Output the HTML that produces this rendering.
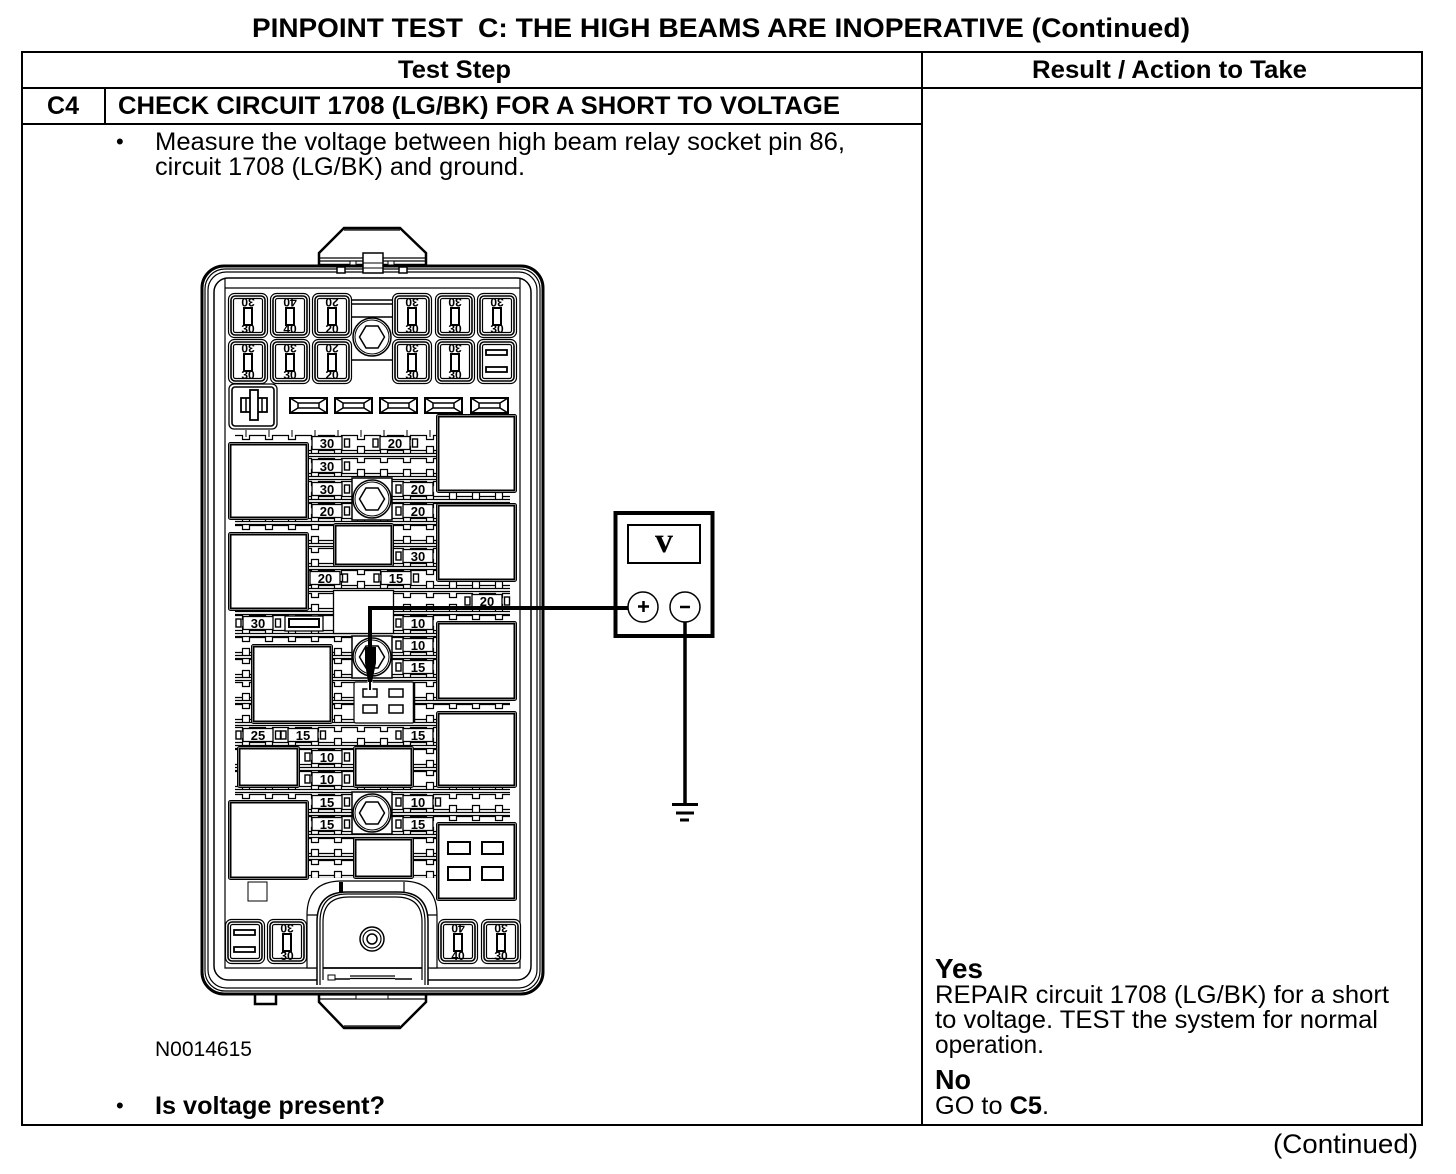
<!DOCTYPE html>
<html><head><meta charset="utf-8"><title>Pinpoint Test C</title>
<style>
html,body{margin:0;padding:0;background:#fff}
svg{display:block}
text{font-family:"Liberation Sans",sans-serif;fill:#000}
.b{font-weight:bold}
.f{font-size:13px;font-weight:bold;text-anchor:middle}
.s{font-size:12px;font-weight:bold;text-anchor:middle}
</style></head><body>
<svg xmlns="http://www.w3.org/2000/svg" width="1456" height="1174" viewBox="0 0 1456 1174">
<defs>
<clipPath id="cp"><rect x="235" y="431" width="275" height="447"/></clipPath>
<g id="cell">
<path d="M-11.500 -7.500H-3.500V-3.500H3.500V-7.500H11.500M-11.500 7.500H-3.500V3.500H3.500V7.500H11.500M-11.500 10.500H11.500M-11.500 13.500H11.500M-3.500 7.500V10.500M3.500 7.500V10.500" fill="none" stroke="#000" stroke-width="1.200"/>
</g>
<g id="row">
<use href="#cell" x="246"/><use href="#cell" x="269"/><use href="#cell" x="292"/><use href="#cell" x="315"/><use href="#cell" x="338"/><use href="#cell" x="361"/><use href="#cell" x="384"/><use href="#cell" x="407"/><use href="#cell" x="430"/><use href="#cell" x="453"/><use href="#cell" x="476"/><use href="#cell" x="499"/>
</g>
<g id="fc">
<rect x=".5" y=".5" width="39" height="44" rx="6" fill="#fff" stroke="#000" stroke-width="1.200"/>
<rect x="3" y="3" width="34" height="39" rx="4" fill="none" stroke="#000" stroke-width="1.600"/>
<rect x="5.500" y="5.500" width="29" height="34" rx="2" fill="none" stroke="#000" stroke-width="1.200"/>
<rect x="16" y="15" width="8" height="17" fill="#fff" stroke="#000" stroke-width="2"/>
</g>
<g id="fs">
<rect x=".5" y=".5" width="39" height="44" rx="6" fill="#fff" stroke="#000" stroke-width="1.200"/>
<rect x="3" y="3" width="34" height="39" rx="4" fill="none" stroke="#000" stroke-width="1.600"/>
<rect x="5.500" y="5.500" width="29" height="34" rx="2" fill="none" stroke="#000" stroke-width="1.200"/>
<rect x="9" y="11" width="21" height="5" fill="#fff" stroke="#000" stroke-width="1.800"/>
<rect x="9" y="28" width="21" height="5" fill="#fff" stroke="#000" stroke-width="1.800"/>
</g>
<g id="mf">
<rect x="1" y="1" width="37" height="15" fill="#fff" stroke="#000" stroke-width="2"/>
<path d="M1 1L9 6V11L1 16M38 1L30 6V11L38 16M9 6H30M9 11H30" fill="none" stroke="#000" stroke-width="1.500"/>
</g>
<g id="hex">
<circle r="19" fill="#fff" stroke="#000" stroke-width="1.500"/>
<circle r="17" fill="none" stroke="#000" stroke-width="1"/>
<path d="M-6-11H6L12.500 0L6 11H-6L-12.500 0Z" fill="#fff" stroke="#000" stroke-width="1.500"/>
</g>
<g id="bolt">
<rect x="-20" y="-21" width="40" height="42" fill="#fff" stroke="#000" stroke-width="1.500"/>
<use href="#hex"/>
</g>
<rect id="bx" x="-15" y="-6.500" width="30" height="13" fill="#fff" stroke="#000" stroke-width="1.300"/>
<rect id="pl" x="-22" y="-4" width="5" height="8" fill="#fff" stroke="#000" stroke-width="1.400"/>
<rect id="pr" x="17.500" y="-4" width="5" height="8" fill="#fff" stroke="#000" stroke-width="1.400"/>
<g id="lbr"><use href="#bx"/><use href="#pr"/></g>
<g id="lbl"><use href="#bx"/><use href="#pl"/></g>
<g id="lb"><use href="#bx"/><use href="#pl"/><use href="#pr"/></g>
</defs>

<!-- Table -->
<g stroke="#000" stroke-width="2" fill="none">
<rect x="22" y="52" width="1400" height="1073"/>
<path d="M22 88H1422M22 124H922M105 88V124M922 52V1125"/>
</g>

<text class="b" x="252" y="37" font-size="27" textLength="211" lengthAdjust="spacingAndGlyphs">PINPOINT TEST</text>
<text class="b" x="478" y="37" font-size="27" textLength="712" lengthAdjust="spacingAndGlyphs">C: THE HIGH BEAMS ARE INOPERATIVE (Continued)</text>
<text class="b" x="398" y="78" font-size="25" textLength="113" lengthAdjust="spacingAndGlyphs">Test Step</text>
<text class="b" x="1032" y="78" font-size="25" textLength="275" lengthAdjust="spacingAndGlyphs">Result / Action to Take</text>
<text class="b" x="47" y="114" font-size="25" textLength="32" lengthAdjust="spacingAndGlyphs">C4</text>
<text class="b" x="118" y="114" font-size="25" textLength="722" lengthAdjust="spacingAndGlyphs">CHECK CIRCUIT 1708 (LG/BK) FOR A SHORT TO VOLTAGE</text>
<text x="116" y="149" font-size="22">•</text>
<text x="155" y="150" font-size="25" textLength="690" lengthAdjust="spacingAndGlyphs">Measure the voltage between high beam relay socket pin 86,</text>
<text x="155" y="175" font-size="25" textLength="370" lengthAdjust="spacingAndGlyphs">circuit 1708 (LG/BK) and ground.</text>
<text x="155" y="1056" font-size="21" textLength="97" lengthAdjust="spacingAndGlyphs">N0014615</text>
<text x="116" y="1113" font-size="22">•</text>
<text class="b" x="155" y="1114" font-size="25" textLength="230" lengthAdjust="spacingAndGlyphs">Is voltage present?</text>
<text class="b" x="935" y="978" font-size="28" textLength="48" lengthAdjust="spacingAndGlyphs">Yes</text>
<text x="935" y="1003" font-size="25" textLength="454" lengthAdjust="spacingAndGlyphs">REPAIR circuit 1708 (LG/BK) for a short</text>
<text x="935" y="1028" font-size="25" textLength="443" lengthAdjust="spacingAndGlyphs">to voltage. TEST the system for normal</text>
<text x="935" y="1053" font-size="25" textLength="109" lengthAdjust="spacingAndGlyphs">operation.</text>
<text class="b" x="935" y="1089" font-size="28" textLength="36" lengthAdjust="spacingAndGlyphs">No</text>
<text x="935" y="1114" font-size="25" textLength="114" lengthAdjust="spacingAndGlyphs">GO to <tspan class="b">C5</tspan>.</text>
<text x="1273" y="1153" font-size="27" textLength="145" lengthAdjust="spacingAndGlyphs">(Continued)</text>

<!-- Fuse box housing -->
<g stroke="#000" fill="#fff">
<path d="M319 265V253L344 228H400L426 253V265Z" stroke-width="2.500"/>
<path d="M319 258H426M319 261H426M344 230H400" fill="none" stroke-width="1.200"/>
<path d="M319 987V1002L344 1028H400L426 1002V987Z" stroke-width="2.500"/>
<path d="M319 995H426M319 999H426M344 1026H400M352 987V995M403 987V995" fill="none" stroke-width="1.300"/>
<rect x="356" y="995" width="32" height="4" stroke-width="1"/>
<rect x="255" y="985" width="21" height="19" stroke-width="2.500"/>
<rect x="202" y="266" width="341" height="728" rx="22" stroke-width="3"/>
<rect x="205" y="269" width="335" height="722" rx="20" fill="none" stroke-width="1.200"/>
<rect x="208" y="272" width="329" height="716" rx="18" fill="none" stroke-width="1.200"/>
<rect x="214" y="278" width="317" height="702" rx="14" fill="none" stroke-width="1.500"/>
<path d="M225 278V968H316M520 278V968H430M225 288H520" fill="none" stroke-width="1.200"/>
<rect x="363" y="253" width="20" height="20" stroke-width="1.500"/>
<path d="M363 268H383M363 263H383" fill="none" stroke-width="1"/>
<rect x="337" y="267" width="8" height="6" stroke-width="1.500"/>
<rect x="399" y="267" width="8" height="6" stroke-width="1.500"/>
<rect x="350" y="261" width="6" height="4" stroke-width="1"/>
<rect x="388" y="261" width="6" height="4" stroke-width="1"/>
</g>

<!-- Connector strips -->
<g clip-path="url(#cp)">
<use href="#row" y="443"/><use href="#row" y="466"/><use href="#row" y="489"/><use href="#row" y="511"/><use href="#row" y="533"/><use href="#row" y="556"/><use href="#row" y="578"/><use href="#row" y="601"/><use href="#row" y="623"/><use href="#row" y="645"/><use href="#row" y="667"/><use href="#row" y="690"/><use href="#row" y="712"/><use href="#row" y="735"/><use href="#row" y="757"/><use href="#row" y="779"/><use href="#row" y="802"/><use href="#row" y="824"/><use href="#row" y="846"/><use href="#row" y="868"/>
</g>

<path d="M352 300H393M352 304H393M352 317H393M352 360H393" stroke="#000" stroke-width="1.500" fill="none"/>

<!-- Upper fuses -->
<use href="#fc" x="228" y="293"/><use href="#fc" x="270" y="293"/><use href="#fc" x="312" y="293"/>
<use href="#fc" x="392" y="293"/><use href="#fc" x="435" y="293"/><use href="#fc" x="477" y="293"/>
<use href="#fc" x="228" y="339"/><use href="#fc" x="270" y="339"/><use href="#fc" x="312" y="339"/>
<use href="#fc" x="392" y="339"/><use href="#fc" x="435" y="339"/><use href="#fs" x="477" y="339"/>
<text class="s" x="248" y="333">30</text><text class="s" transform="rotate(180 248 298)" x="248" y="298">30</text>
<text class="s" x="290" y="333">40</text><text class="s" transform="rotate(180 290 298)" x="290" y="298">40</text>
<text class="s" x="332" y="333">20</text><text class="s" transform="rotate(180 332 298)" x="332" y="298">20</text>
<text class="s" x="412" y="333">30</text><text class="s" transform="rotate(180 412 298)" x="412" y="298">30</text>
<text class="s" x="455" y="333">30</text><text class="s" transform="rotate(180 455 298)" x="455" y="298">30</text>
<text class="s" x="497" y="333">30</text><text class="s" transform="rotate(180 497 298)" x="497" y="298">30</text>
<text class="s" x="248" y="379">30</text><text class="s" transform="rotate(180 248 344)" x="248" y="344">30</text>
<text class="s" x="290" y="379">30</text><text class="s" transform="rotate(180 290 344)" x="290" y="344">30</text>
<text class="s" x="332" y="379">20</text><text class="s" transform="rotate(180 332 344)" x="332" y="344">20</text>
<text class="s" x="412" y="379">30</text><text class="s" transform="rotate(180 412 344)" x="412" y="344">30</text>
<text class="s" x="455" y="379">30</text><text class="s" transform="rotate(180 455 344)" x="455" y="344">30</text>

<!-- Plug cell -->
<g stroke="#000" fill="#fff">
<rect x="229" y="384" width="48" height="45" rx="5" stroke-width="1.300"/>
<rect x="232" y="387" width="42" height="39" rx="3" fill="none" stroke-width="1.600"/>
<rect x="241" y="398" width="26" height="14" stroke-width="1.800"/>
<path d="M246 398V412M262 398V412" fill="none" stroke-width="1.500"/>
<rect x="250" y="390" width="8" height="30" stroke-width="1.800"/>
</g>

<use href="#mf" x="289" y="397"/><use href="#mf" x="334" y="397"/><use href="#mf" x="379" y="397"/><use href="#mf" x="424" y="397"/><use href="#mf" x="470" y="397"/>
<path d="M246 430V437M269 430V437M292 430V437M315 430V437M338 430V437M361 430V437M384 430V437M407 430V437M430 430V437" stroke="#000" stroke-width="1"/>

<!-- Bolts -->
<use href="#hex" x="372" y="337"/>
<use href="#bolt" x="372" y="499"/>
<use href="#bolt" x="372" y="657"/>
<use href="#bolt" x="372" y="813"/>

<!-- Relays -->
<g fill="#fff" stroke="#000">
<rect x="436.500" y="414.500" width="80" height="78" rx="2" stroke-width="1"/><rect x="438.500" y="416.500" width="76" height="74" stroke-width="2"/>
<rect x="228.500" y="442.500" width="80" height="77" rx="2" stroke-width="1"/><rect x="230.500" y="444.500" width="76" height="73" stroke-width="2"/>
<rect x="436.500" y="503.500" width="80" height="78" rx="2" stroke-width="1"/><rect x="438.500" y="505.500" width="76" height="74" stroke-width="2"/>
<rect x="228.500" y="532.500" width="80" height="78" rx="2" stroke-width="1"/><rect x="230.500" y="534.500" width="76" height="74" stroke-width="2"/>
<rect x="436.500" y="621.500" width="80" height="79" rx="2" stroke-width="1"/><rect x="438.500" y="623.500" width="76" height="75" stroke-width="2"/>
<rect x="251.500" y="644.500" width="81" height="79" rx="2" stroke-width="1"/><rect x="253.500" y="646.500" width="77" height="75" stroke-width="2"/>
<rect x="436.500" y="711.500" width="80" height="76" rx="2" stroke-width="1"/><rect x="438.500" y="713.500" width="76" height="72" stroke-width="2"/>
<rect x="237.500" y="746.500" width="62" height="41" rx="2" stroke-width="1"/><rect x="239.500" y="748.500" width="58" height="37" stroke-width="2"/>
<rect x="353.500" y="746.500" width="60" height="41" rx="2" stroke-width="1"/><rect x="355.500" y="748.500" width="56" height="37" stroke-width="2"/>
<rect x="228.500" y="800.500" width="80" height="79" rx="2" stroke-width="1"/><rect x="230.500" y="802.500" width="76" height="75" stroke-width="2"/>
<rect x="436.500" y="822.500" width="80" height="78" rx="2" stroke-width="1"/><rect x="438.500" y="824.500" width="76" height="74" stroke-width="2"/>
<rect x="333.500" y="523.500" width="60" height="43" rx="2" stroke-width="1"/><rect x="335.500" y="525.500" width="56" height="39" stroke-width="2"/>
<rect x="353.500" y="837.500" width="60" height="41" rx="2" stroke-width="1"/><rect x="355.500" y="839.500" width="56" height="37" stroke-width="2"/>
<rect x="333.500" y="590.500" width="60" height="43" stroke-width="1.300"/>
<rect x="354" y="682" width="60" height="41" rx="2" stroke-width="1.200"/>
<path d="M414 682V723" stroke-width="2.500" fill="none"/>
<rect x="363" y="689" width="14" height="8" stroke-width="1.500"/>
<rect x="389" y="689" width="14" height="8" stroke-width="1.500"/>
<rect x="363" y="705" width="14" height="8" stroke-width="1.500"/>
<rect x="389" y="705" width="14" height="8" stroke-width="1.500"/>
<rect x="448" y="842" width="22" height="12" stroke-width="2"/>
<rect x="482" y="842" width="21" height="12" stroke-width="2"/>
<rect x="448" y="867" width="22" height="13" stroke-width="2"/>
<rect x="482" y="867" width="21" height="13" stroke-width="2"/>
<rect x="248" y="882" width="19" height="19" stroke-width="1"/>
<rect x="285" y="616" width="38" height="15" stroke-width="1.300"/>
<rect x="289" y="619" width="30" height="8" stroke-width="2"/>
</g>

<!-- Labelled fuses -->
<g>
<use href="#lbr" x="327" y="443"/><text class="f" x="327" y="448">30</text>
<use href="#lb" x="395" y="443"/><text class="f" x="395" y="448">20</text>
<use href="#lbr" x="327" y="466"/><text class="f" x="327" y="471">30</text>
<use href="#lbr" x="327" y="489"/><text class="f" x="327" y="494">30</text>
<use href="#lbl" x="418" y="489"/><text class="f" x="418" y="494">20</text>
<use href="#lbr" x="327" y="511"/><text class="f" x="327" y="516">20</text>
<use href="#lbl" x="418" y="511"/><text class="f" x="418" y="516">20</text>
<use href="#lbl" x="418" y="556"/><text class="f" x="418" y="561">30</text>
<use href="#lbr" x="325" y="578"/><text class="f" x="325" y="583">20</text>
<use href="#lb" x="396" y="578"/><text class="f" x="396" y="583">15</text>
<use href="#lb" x="487" y="601"/><text class="f" x="487" y="606">20</text>
<use href="#lb" x="258" y="623"/><text class="f" x="258" y="628">30</text>
<use href="#lbl" x="418" y="623"/><text class="f" x="418" y="628">10</text>
<use href="#lbl" x="418" y="645"/><text class="f" x="418" y="650">10</text>
<use href="#lbl" x="418" y="667"/><text class="f" x="418" y="672">15</text>
<use href="#lb" x="258" y="735"/><text class="f" x="258" y="740">25</text>
<use href="#lb" x="303" y="735"/><text class="f" x="303" y="740">15</text>
<use href="#lbl" x="418" y="735"/><text class="f" x="418" y="740">15</text>
<use href="#lb" x="327" y="757"/><text class="f" x="327" y="762">10</text>
<use href="#lb" x="327" y="779"/><text class="f" x="327" y="784">10</text>
<use href="#lbr" x="327" y="802"/><text class="f" x="327" y="807">15</text>
<use href="#lb" x="418" y="802"/><text class="f" x="418" y="807">10</text>
<use href="#lbr" x="327" y="824"/><text class="f" x="327" y="829">15</text>
<use href="#lbl" x="418" y="824"/><text class="f" x="418" y="829">15</text>
</g>

<!-- Cover -->
<g stroke="#000" fill="#fff">
<path d="M307 968V915Q307 881 342 881H402Q437 881 437 915V968Z" stroke-width="1.200"/>
<path d="M341 882V892" stroke-width="4"/>
<path d="M404 882V892" stroke-width="1.200"/>
<path d="M307 915H317M428 915H437" stroke-width="1.200" fill="none"/>
<path d="M317 985V922Q317 892 347 892H398Q428 892 428 922V985" stroke-width="1.500"/>
<path d="M320 985V922Q320 894 347 894H398Q425 894 425 922V985" fill="none" stroke-width="1.200"/>
<path d="M323 980V922Q323 897 349 897H396Q422 897 422 922V980" fill="none" stroke-width="1.200"/>
<path d="M323 968H422" fill="none" stroke-width="1.800"/>
<path d="M350 976H395" fill="none" stroke-width="1.300"/>
<path d="M350 978.500H395" fill="none" stroke-width="1.300"/>
<rect x="328" y="975" width="7" height="5" stroke-width="1"/>
<path d="M335 979H350M395 979H412" fill="none" stroke-width="1.500"/>
<circle cx="372" cy="939" r="12" stroke-width="1.500"/>
<circle cx="372" cy="939" r="9" fill="none" stroke-width="1.200"/>
<circle cx="372" cy="939" r="5" fill="none" stroke-width="1.500"/>
</g>

<!-- Lower fuses -->
<use href="#fs" x="225" y="919"/><use href="#fc" x="267" y="919"/><use href="#fc" x="438" y="919"/><use href="#fc" x="481" y="919"/>
<text class="s" x="287" y="960">30</text><text class="s" transform="rotate(180 287 924)" x="287" y="924">30</text>
<text class="s" x="458" y="960">40</text><text class="s" transform="rotate(180 458 924)" x="458" y="924">40</text>
<text class="s" x="501" y="960">30</text><text class="s" transform="rotate(180 501 924)" x="501" y="924">30</text>

<!-- Meter -->
<g stroke="#000" fill="none">
<rect x="615.500" y="513" width="97" height="123" fill="#fff" stroke-width="4"/>
<rect x="628" y="525" width="72" height="38" stroke-width="2"/>
<circle cx="643" cy="607" r="15" fill="#fff" stroke-width="1.500"/>
<circle cx="685" cy="607" r="15" fill="#fff" stroke-width="1.500"/>
<path d="M638 606.500H649M643.500 601V612M680 607H690" stroke-width="2.500"/>
<path d="M368 608H628" stroke-width="4"/>
<path d="M370 606V650" stroke-width="4"/>
<path d="M685 622V804" stroke-width="3.500"/>
<path d="M672 804.500H698M676 813H694M680 820H689" stroke-width="3"/>
<path d="M370 680V690" stroke="#fff" stroke-width="5"/>
<path d="M370 680V690" stroke-width="2"/>
</g>
<path d="M365 647H376V663L372 682H368L365 663Z" fill="#000"/>
<text x="664" y="552" font-size="36" style="font-family:'Liberation Serif',serif;font-weight:bold" text-anchor="middle">v</text>
</svg>
</body></html>
